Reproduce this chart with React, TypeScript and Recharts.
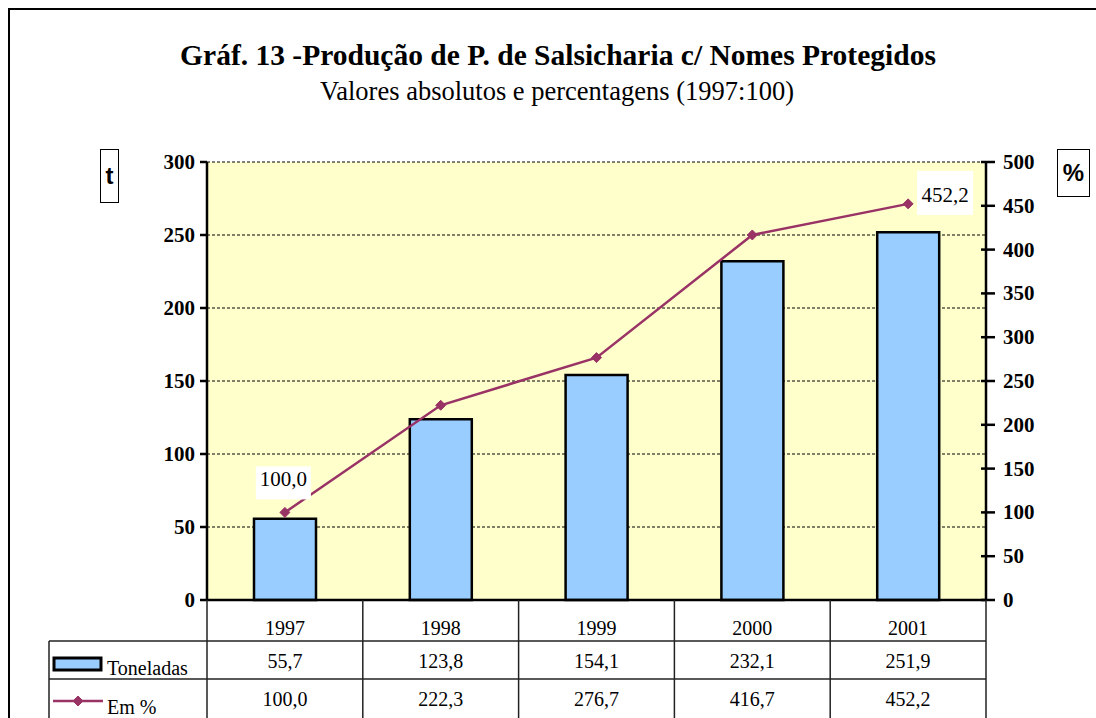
import React from 'react';
import {
  ComposedChart,
  Bar,
  Line,
  XAxis,
  YAxis,
  CartesianGrid,
  LabelList,
} from 'recharts';

const years = ['1997', '1998', '1999', '2000', '2001'];
const toneladas = [55.7, 123.8, 154.1, 232.1, 251.9];
const emPercent = [100.0, 222.3, 276.7, 416.7, 452.2];
const leftTicks = [0, 50, 100, 150, 200, 250, 300];
const rightTicks = [0, 50, 100, 150, 200, 250, 300, 350, 400, 450, 500];
const labelledPoints = [0, 4];

const SERIF = "'Liberation Serif', 'Times New Roman', serif";
const SANS = "'Liberation Sans', Arial, sans-serif";
const BAR_FILL = '#99CCFF';
const LINE_COLOR = '#993366';

const fmt = (v: number) => v.toFixed(1).replace('.', ',');

const data = years.map((y, i) => ({
  year: y,
  ton: toneladas[i],
  pct: emPercent[i],
}));

// plot area geometry (px)
const PLOT_L = 207;
const PLOT_R = 986;
const PLOT_T = 162;
const PLOT_B = 600;
const ROW1 = 641;
const ROW2 = 679;

const serifText = (size: number, bold = false): React.CSSProperties => ({
  fontFamily: SERIF,
  fontSize: size,
  fontWeight: bold ? 'bold' : 'normal',
});

const Diamond = (props: any) => {
  const { cx, cy } = props;
  if (cx == null || cy == null) return null;
  const s = 5;
  return (
    <path
      d={`M${cx},${cy - s} L${cx + s},${cy} L${cx},${cy + s} L${cx - s},${cy} Z`}
      fill={LINE_COLOR}
      stroke={LINE_COLOR}
    />
  );
};

const PointLabel = (props: any) => {
  const { x, y, index, value } = props;
  if (!labelledPoints.includes(index)) return null;
  const text = fmt(Number(value));
  let bx: number, by: number, w: number, h: number;
  if (index === 0) {
    w = 55;
    h = 33;
    bx = x - 29;
    by = y - 46;
  } else {
    w = 56;
    h = 44;
    bx = x + 9;
    by = y - 33;
  }
  return (
    <g>
      <rect x={bx} y={by} width={w} height={h} fill="#fff" />
      <text
        x={bx + w / 2}
        y={index === 0 ? by + 20 : by + 31}
        textAnchor="middle"
        style={serifText(21)}
        fill="#000"
      >
        {text}
      </text>
    </g>
  );
};

const LeftTick = (props: any) => {
  const { x, y, payload } = props;
  return (
    <text x={x} y={y + 7} textAnchor="end" style={serifText(21, true)} fill="#000">
      {payload.value}
    </text>
  );
};

const RightTick = (props: any) => {
  const { x, y, payload } = props;
  return (
    <g>
      <line x1={x - 5} y1={y} x2={x + 9} y2={y} stroke="#000" strokeWidth={2.5} />
      <text x={x + 17} y={y + 7} style={serifText(21, true)} fill="#000">
        {payload.value}
      </text>
    </g>
  );
};

const YearTick = (props: any) => {
  const { x, y, payload } = props;
  return (
    <text x={x} y={y + 27} textAnchor="middle" style={serifText(20)} fill="#000">
      {payload.value}
    </text>
  );
};

export default function App() {
  const colW = (PLOT_R - PLOT_L) / years.length;
  const gridLine = '#222';

  return (
    <div
      style={{
        position: 'absolute',
        left: 0,
        top: 0,
        width: 1096,
        height: 718,
        background: '#fff',
        overflow: 'hidden',
        fontFamily: SERIF,
      }}
    >
      <div
        style={{
          position: 'absolute',
          left: 8,
          top: 8,
          width: 1200,
          height: 800,
          border: '2.5px solid #000',
          boxSizing: 'border-box',
        }}
      />
      <div
        style={{
          position: 'absolute',
          left: 0,
          width: 1116,
          top: 39,
          textAlign: 'center',
          fontFamily: SERIF,
          fontWeight: 'bold',
          fontSize: 29.5,
          color: '#000',
          whiteSpace: 'nowrap',
        }}
      >
        Gráf. 13 -Produção de P. de Salsicharia c/ Nomes Protegidos
      </div>
      <div
        style={{
          position: 'absolute',
          left: 0,
          width: 1114,
          top: 76,
          textAlign: 'center',
          fontFamily: SERIF,
          fontSize: 26.5,
          color: '#000',
          whiteSpace: 'nowrap',
        }}
      >
        Valores absolutos e percentagens (1997:100)
      </div>
      <div
        style={{
          position: 'absolute',
          left: 100,
          top: 149,
          width: 19,
          height: 54,
          border: '1.5px solid #000',
          boxSizing: 'border-box',
          fontFamily: SANS,
          fontWeight: 'bold',
          fontSize: 24,
          textAlign: 'center',
          lineHeight: '52px',
        }}
      >
        t
      </div>
      <div
        style={{
          position: 'absolute',
          left: 1057,
          top: 149,
          width: 33,
          height: 48,
          border: '1.5px solid #000',
          boxSizing: 'border-box',
          fontFamily: SANS,
          fontWeight: 'bold',
          fontSize: 24,
          textAlign: 'center',
          lineHeight: '46px',
        }}
      >
        %
      </div>

      <div style={{ position: 'absolute', left: 0, top: 0 }}>
        <ComposedChart
          width={1096}
          height={718}
          data={data}
          margin={{ top: PLOT_T, left: PLOT_L - 60, right: 1096 - PLOT_R - 60, bottom: 718 - PLOT_B - 41 }}
        >
          <CartesianGrid
            yAxisId="left"
            vertical={false}
            stroke="#000"
            strokeDasharray="3 2"
            fill="#FFFFCC"
            fillOpacity={1}
          />
          <XAxis
            dataKey="year"
            height={41}
            axisLine={{ stroke: '#000', strokeWidth: 2.5 }}
            tickLine={false}
            tick={<YearTick />}
          />
          <YAxis
            yAxisId="left"
            width={60}
            domain={[0, 300]}
            ticks={leftTicks}
            interval={0}
            axisLine={{ stroke: '#000', strokeWidth: 2.5 }}
            tickLine={{ stroke: '#000', strokeWidth: 2.5 }}
            tickSize={7}
            tickMargin={5}
            tick={<LeftTick />}
          />
          <YAxis
            yAxisId="right"
            orientation="right"
            width={60}
            domain={[0, 500]}
            ticks={rightTicks}
            interval={0}
            axisLine={{ stroke: '#000', strokeWidth: 2.5 }}
            tickLine={false}
            tickSize={0}
            tickMargin={0}
            tick={<RightTick />}
          />
          <Bar
            yAxisId="left"
            dataKey="ton"
            barSize={62}
            fill={BAR_FILL}
            stroke="#000"
            strokeWidth={2.5}
            isAnimationActive={false}
          />
          <Line
            yAxisId="right"
            dataKey="pct"
            stroke={LINE_COLOR}
            strokeWidth={2.5}
            dot={<Diamond />}
            activeDot={false}
            isAnimationActive={false}
          >
            <LabelList dataKey="pct" content={<PointLabel />} />
          </Line>
        </ComposedChart>
      </div>

      {/* data table */}
      <svg
        width={1096}
        height={718}
        style={{ position: 'absolute', left: 0, top: 0, pointerEvents: 'none' }}
      >
        {years.map((_, i) => (
          <line
            key={'v' + i}
            x1={PLOT_L + colW * (i + 1)}
            y1={PLOT_B}
            x2={PLOT_L + colW * (i + 1)}
            y2={718}
            stroke={gridLine}
            strokeWidth={1.5}
          />
        ))}
        <line x1={PLOT_L} y1={PLOT_B} x2={PLOT_L} y2={718} stroke={gridLine} strokeWidth={1.5} />
        <line x1={49} y1={ROW1} x2={49} y2={718} stroke={gridLine} strokeWidth={1.5} />
        <line x1={49} y1={ROW1} x2={PLOT_R} y2={ROW1} stroke={gridLine} strokeWidth={1.5} />
        <line x1={49} y1={ROW2} x2={PLOT_R} y2={ROW2} stroke={gridLine} strokeWidth={1.5} />

        <rect x={54} y={658} width={47} height={12} fill={BAR_FILL} stroke="#000" strokeWidth={3} />
        <text x={107} y={675} style={serifText(20)} fill="#000">
          Toneladas
        </text>
        <line x1={53} y1={701} x2={103} y2={701} stroke={LINE_COLOR} strokeWidth={2.5} />
        <Diamond cx={78} cy={701} />
        <text x={107} y={714} style={serifText(20)} fill="#000">
          Em %
        </text>

        {toneladas.map((v, i) => (
          <text
            key={'t' + i}
            x={PLOT_L + colW * (i + 0.5)}
            y={668}
            textAnchor="middle"
            style={serifText(20)}
            fill="#000"
          >
            {fmt(v)}
          </text>
        ))}
        {emPercent.map((v, i) => (
          <text
            key={'p' + i}
            x={PLOT_L + colW * (i + 0.5)}
            y={706}
            textAnchor="middle"
            style={serifText(20)}
            fill="#000"
          >
            {fmt(v)}
          </text>
        ))}
      </svg>
    </div>
  );
}
